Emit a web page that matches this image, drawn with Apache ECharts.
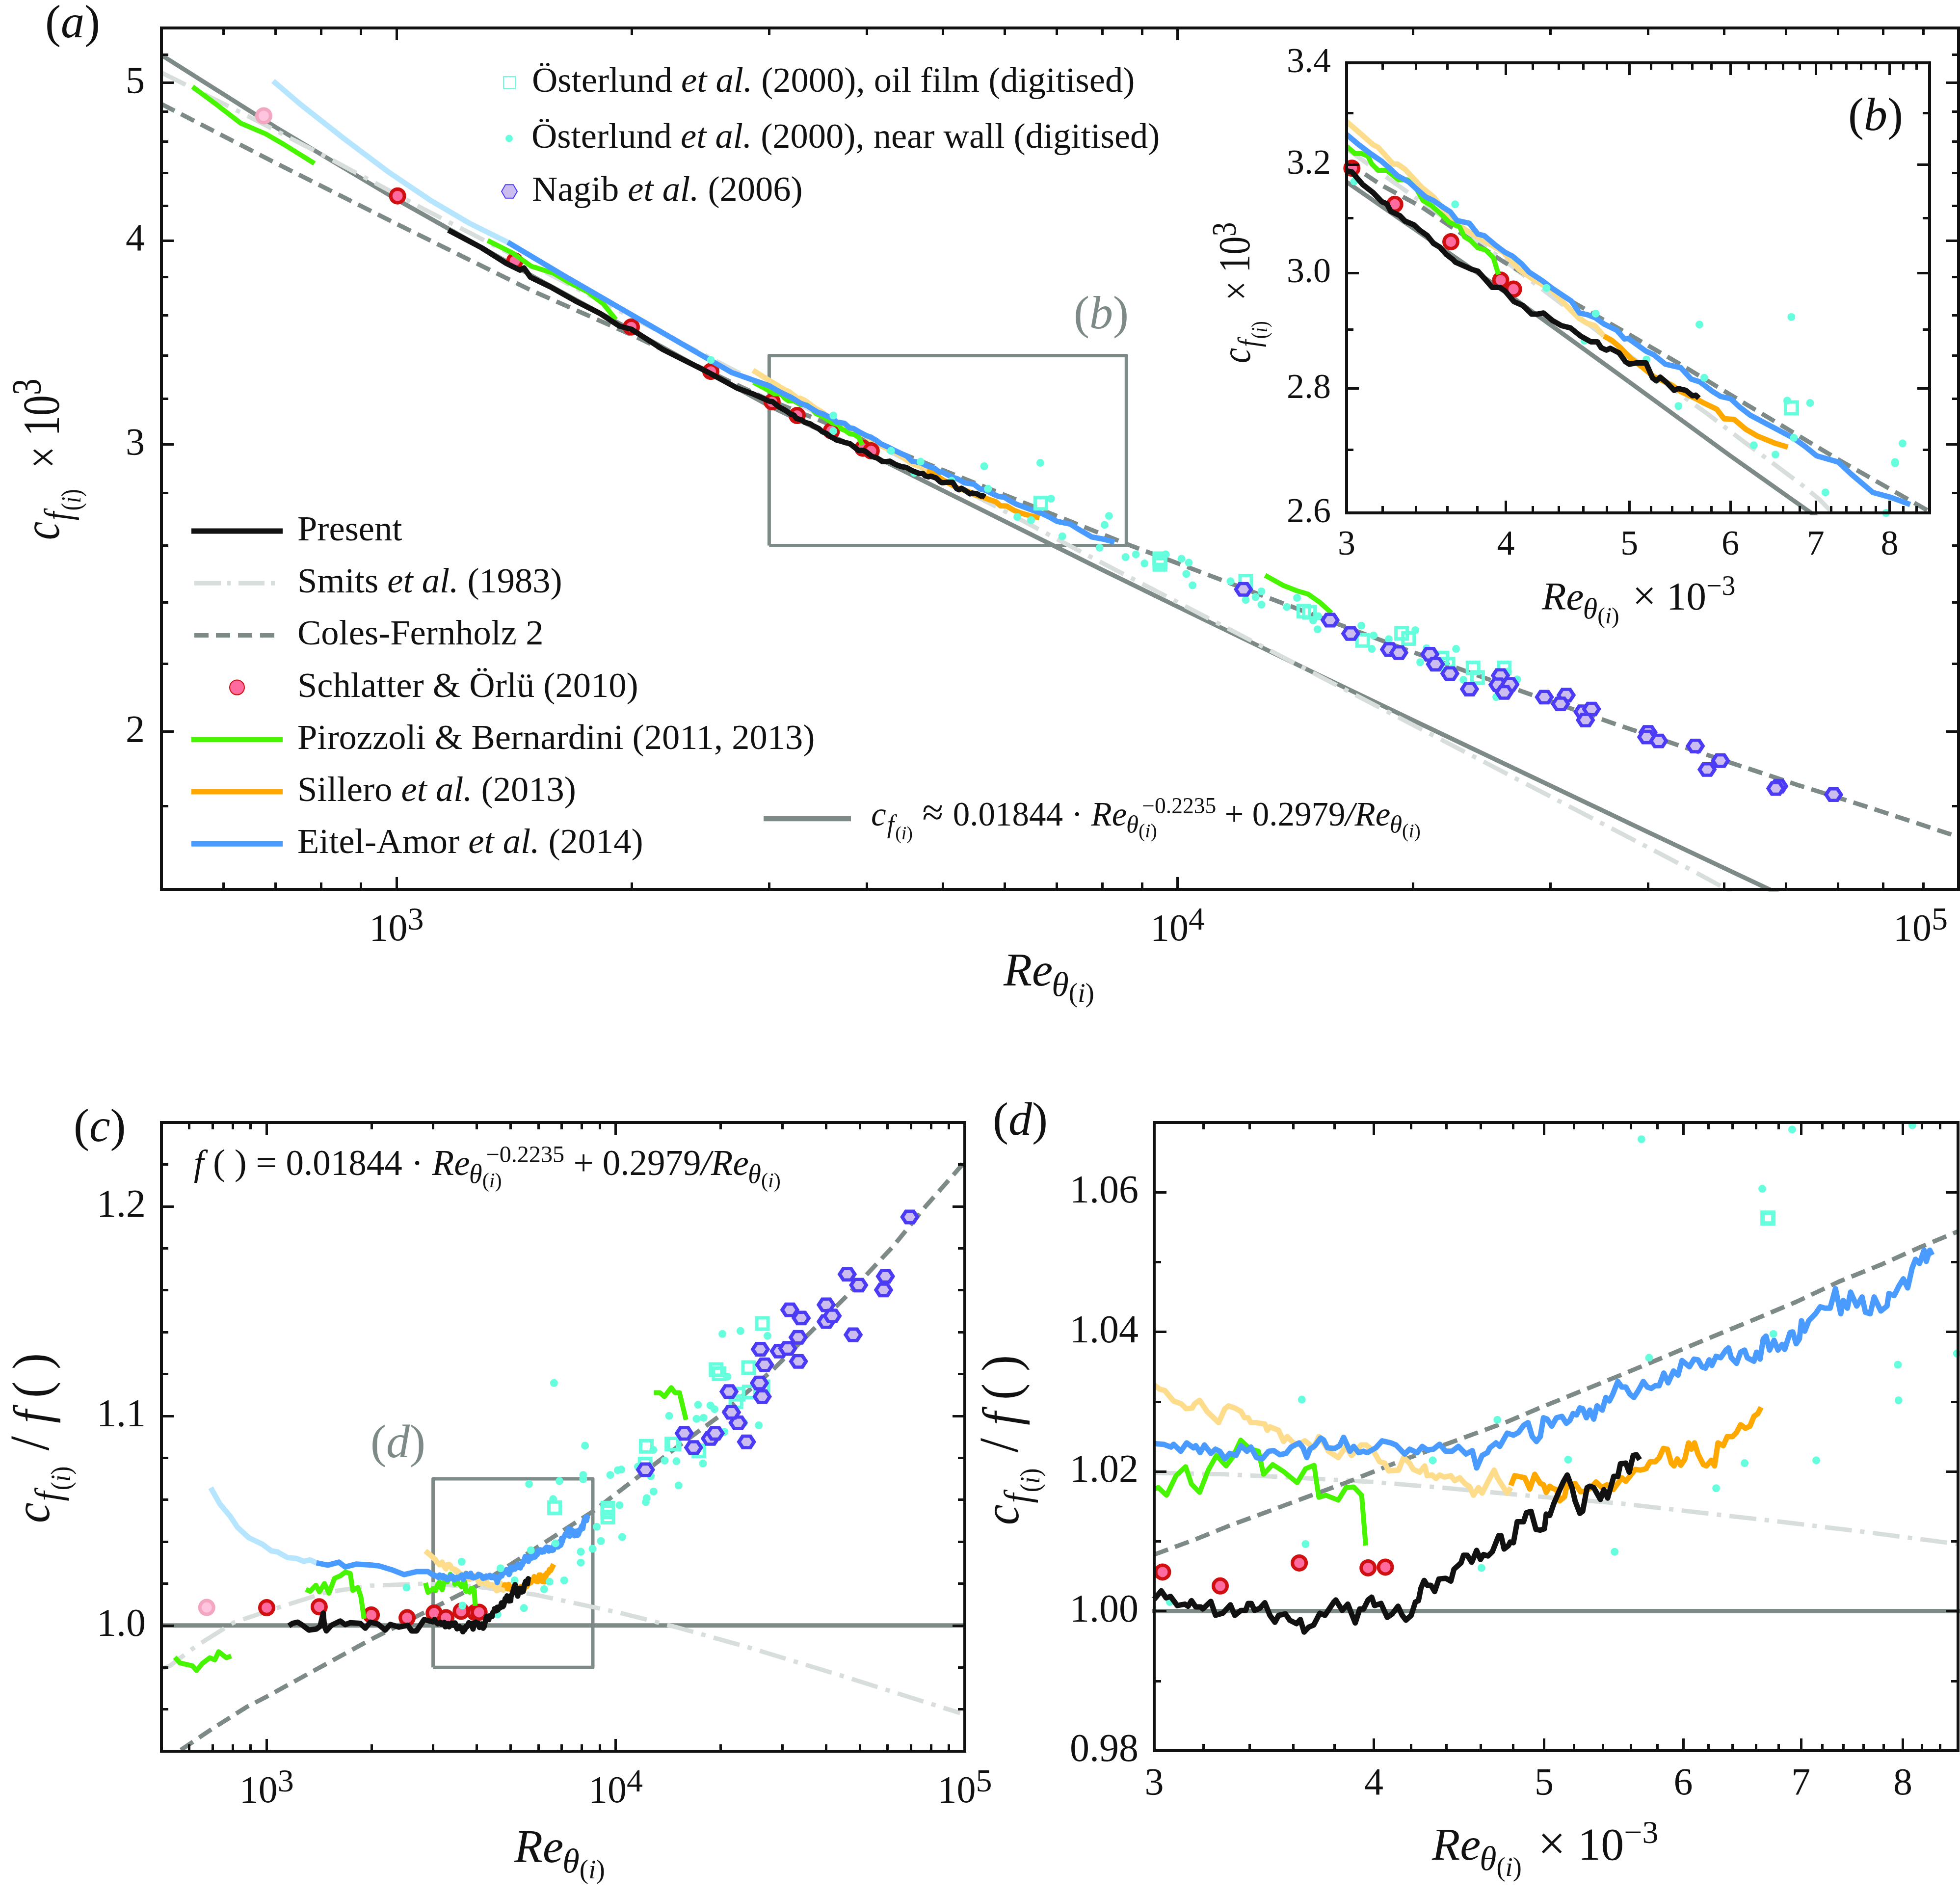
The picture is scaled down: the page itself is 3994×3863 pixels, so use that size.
<!DOCTYPE html>
<html><head><meta charset="utf-8">
<script src="https://cdn.jsdelivr.net/npm/echarts@6/dist/echarts.min.js"></script>
<style>html,body{margin:0;padding:0;background:#fff}#c{width:3994px;height:3863px}</style>
</head><body><div id="c"></div>
<script>
// ---------- tick values ----------
const xMajorWide=[1000,10000,100000];
const xMinorWide=[600,700,800,900,2000,3000,4000,5000,6000,7000,8000,9000,20000,30000,40000,50000,60000,70000,80000,90000];
const xMajorZoom=[3000,4000,5000,6000,7000,8000];
const xMinorZoom=[3200,3400,3600,3800,4200,4400,4600,4800,5200,5400,5600,5800,6200,6400,6600,6800,7200,7400,7600,7800,8200,8400];
const yMajorA=[2,3,4,5], yMinorA=[1.8,2.2,2.4,2.6,2.8,3.2,3.4,3.6,3.8,4.2,4.4,4.6,4.8,5.2];
const yMajorB=[2.6,2.8,3.0,3.2,3.4], yMinorB=[2.7,2.9,3.1,3.3];
const yMajorC=[1.0,1.1,1.2], yMinorC=[0.96,0.98,1.02,1.04,1.06,1.08,1.12,1.14,1.16,1.18,1.22];
const yMajorD=[0.98,1.0,1.02,1.04,1.06], yMinorD=[0.99,1.01,1.03,1.05];

// ---------- names ----------
const N_PRESENT='Present',N_SMITS='Smits et al. (1983)',N_COLES='Coles-Fernholz 2',N_SCH='Schlatter & Örlü (2010)',N_PIR='Pirozzoli & Bernardini (2011, 2013)',N_SIL='Sillero et al. (2013)',N_EIT='Eitel-Amor et al. (2014)',N_FIT='Fit',N_OIL='Österlund et al. (2000), oil film (digitised)',N_WALL='Österlund et al. (2000), near wall (digitised)',N_NAG='Nagib et al. (2006)';

// ---------- reference curves ----------
const fitA=[[500,5.197],[700,4.694],[1000,4.239],[1500,3.799],[2000,3.524],[3000,3.167],[4000,2.965],[5000,2.811],[8000,2.513],[10000,2.385],[15000,2.171],[20000,2.032],[40000,1.735],[60000,1.583],[100000,1.41]];
const fitB=[[3000,3.167],[4000,2.965],[5000,2.811],[6000,2.69],[7000,2.595],[8600,2.47]];
const unity=[[500,1],[100000,1]];
const colesA=[[500,4.85],[700,4.463],[1000,4.095],[1484,3.73],[2000,3.501],[3000,3.193],[4000,3.021],[5000,2.893],[8600,2.606],[10440,2.516],[14630,2.366],[19700,2.243],[28160,2.109],[36440,2.02],[46240,1.944],[62250,1.854],[77430,1.794],[100000,1.723]];
const colesB=[[3000,3.205],[3200,3.16],[3436,3.12],[3982,3.02],[4540,2.945],[4977,2.894],[5461,2.843],[6185,2.773],[7293,2.684],[8600,2.602]];
const colesC=[[568,0.9406],[699,0.9507],[875,0.961],[1000,0.966],[1484,0.9817],[2000,0.9935],[3000,1.0083],[4000,1.0188],[5000,1.0291],[8600,1.0544],[10440,1.0651],[14630,1.0838],[19700,1.0996],[28160,1.1219],[36440,1.1405],[46240,1.1578],[62250,1.1808],[77430,1.2002],[97250,1.2189],[100000,1.222]];
const colesD=[[3000,1.0081],[3168,1.0103],[3315,1.0123],[3468,1.0141],[3633,1.016],[3857,1.0184],[4132,1.0214],[4440,1.0243],[4772,1.0272],[4970,1.0291],[5247,1.0315],[5526,1.0338],[5863,1.0365],[6191,1.039],[6560,1.0416],[6957,1.0443],[7358,1.0472],[7786,1.0497],[8177,1.0521],[8600,1.0544]];
const smitsA=[[500,5.07],[629,4.798],[805,4.513],[1084,4.181],[1484,3.868],[1995,3.591],[2827,3.294],[4000,3.02],[4867,2.876],[5880,2.744],[7760,2.557],[10240,2.386],[14830,2.175],[24400,1.921],[45200,1.647],[49900,1.605],[97000,1.351]];
const smitsB=[[3000,3.23],[4000,3.02],[4400,2.949],[5000,2.856],[5500,2.788],[5750,2.759],[6138,2.714],[6817,2.645],[7048,2.621],[7300,2.59]];
const smitsC=[[500,0.9793],[529,0.9808],[629,0.9902],[805,1.0014],[1084,1.0086],[1484,1.0158],[1995,1.019],[2827,1.0199],[4000,1.0185],[5880,1.0147],[7760,1.0104],[10240,1.0061],[14830,0.9993],[24400,0.9892],[45200,0.9756],[97000,0.9582]];
const smitsD=[[3000,1.0198],[3291,1.0196],[3624,1.0191],[3997,1.0185],[4410,1.0176],[4867,1.0166],[5536,1.0154],[6138,1.0141],[6817,1.0128],[7578,1.0114],[8600,1.0096]];
const boxB=[[3000,2.6],[8600,2.6],[8600,3.4],[3000,3.4],[3000,2.6]];
const boxD=[[3000,0.98],[8600,0.98],[8600,1.07],[3000,1.07],[3000,0.98]];

// ---------- present ----------
const blackLowA=[[1165,4.059],[1284,3.96],[1382,3.873],[1439,3.836],[1456,3.848],[1484,3.798],[1573,3.747],[1694,3.673],[1823,3.608],[1928,3.545],[1998,3.529],[2192,3.43],[2493,3.325],[2735,3.246],[2864,3.22]];
const blackB=[[3000,3.188],[3029,3.186],[3089,3.162],[3147,3.147],[3197,3.13],[3226,3.126],[3249,3.112],[3303,3.104],[3334,3.094],[3388,3.087],[3420,3.078],[3472,3.067],[3510,3.053],[3551,3.046],[3592,3.033],[3635,3.024],[3652,3.019],[3712,3.012],[3763,3.006],[3803,3.003],[3848,2.99],[3903,2.974],[3957,2.974],[3993,2.968],[4059,2.949],[4125,2.942],[4191,2.927],[4231,2.927],[4281,2.929],[4351,2.916],[4423,2.907],[4496,2.903],[4579,2.889],[4665,2.879],[4720,2.879],[4752,2.869],[4797,2.865],[4830,2.868],[4909,2.86],[4966,2.845],[5000,2.841],[5059,2.843],[5153,2.843],[5213,2.818],[5250,2.813],[5287,2.819],[5349,2.81],[5422,2.797],[5461,2.8],[5538,2.797],[5603,2.788],[5637,2.789],[5669,2.784]];
const blackLowC=[[1158,0.9998],[1187,1.001],[1227,1.0016],[1268,1.0001],[1322,0.9978],[1389,0.9983],[1424,0.9996],[1453,1.0059],[1465,0.9996],[1484,0.9974],[1534,1.0001],[1626,1.0021],[1680,1.0004],[1737,1.0013],[1855,1.001],[1918,0.9987],[1982,1.0016],[2083,1.0007],[2188,0.9978],[2262,1.0005],[2396,0.9992],[2539,1.0001],[2603,0.9974],[2690,0.9974],[2827,1.0028]];
const blackD=[[3000,1.0017],[3028,1.0029],[3047,1.0019],[3065,1.0021],[3092,1.0008],[3123,1.001],[3136,1.0007],[3150,1.0015],[3168,1.0006],[3189,1.0006],[3197,1.0003],[3231,1.0014],[3251,0.9994],[3282,0.9997],[3315,1.0009],[3334,0.9994],[3361,1.0001],[3382,1.0001],[3393,1.0011],[3407,1.0011],[3422,1.0001],[3445,1.0004],[3468,1.0012],[3491,0.9994],[3514,0.9984],[3531,0.9994],[3563,0.9996],[3583,0.9987],[3615,0.9982],[3633,0.9988],[3651,0.997],[3673,0.9977],[3697,0.998],[3727,0.9997],[3752,0.9994],[3796,1.0013],[3806,1.0016],[3838,1.0001],[3866,1.001],[3904,0.9983],[3927,1.0003],[3947,1.0003],[3970,1.0016],[3989,1.002],[4004,1.0008],[4038,1.0011],[4071,0.9991],[4098,0.9996],[4129,1.0007],[4152,0.9994],[4172,0.9987],[4201,0.9994],[4224,1.0013],[4241,1.0015],[4255,1.0033],[4273,1.0044],[4290,1.0037],[4311,1.0037],[4332,1.0028],[4356,1.0046],[4395,1.0047],[4425,1.0043],[4443,1.006],[4484,1.0069],[4499,1.008],[4521,1.008],[4548,1.007],[4577,1.0087],[4600,1.0074],[4618,1.0081],[4646,1.0079],[4672,1.0085],[4711,1.0108],[4726,1.0108],[4745,1.0089],[4772,1.0094],[4783,1.0099],[4803,1.0098],[4827,1.0128],[4867,1.0128],[4886,1.0141],[4915,1.0143],[4947,1.0117],[4975,1.0116],[5002,1.0118],[5014,1.0139],[5037,1.0137],[5064,1.0154],[5100,1.0172],[5127,1.0185],[5154,1.0195],[5186,1.0177],[5207,1.0158],[5240,1.014],[5259,1.0143],[5290,1.0177],[5309,1.0179],[5336,1.0177],[5355,1.017],[5383,1.016],[5407,1.0174],[5434,1.0162],[5478,1.0193],[5507,1.0193],[5526,1.0211],[5565,1.0212],[5590,1.0199],[5619,1.0223],[5643,1.0224],[5667,1.0217]];

// ---------- Eitel-Amor ----------
const blueLightA=[[695,5.01],[752,4.851],[856,4.62],[974,4.41],[1108,4.23],[1238,4.1],[1388,3.99]];
const blueLowA=[[1388,3.99],[1632,3.81],[1963,3.62],[2360,3.44],[2685,3.32]];
const blueB=[[3000,3.258],[3060,3.24],[3132,3.221],[3197,3.206],[3249,3.191],[3288,3.179],[3357,3.167],[3403,3.154],[3460,3.139],[3510,3.132],[3569,3.12],[3618,3.111],[3662,3.095],[3745,3.09],[3803,3.07],[3848,3.067],[3930,3.049],[3993,3.037],[4049,3.03],[4116,3.016],[4173,3.001],[4272,2.986],[4352,2.972],[4439,2.959],[4502,2.95],[4569,2.929],[4634,2.926],[4699,2.921],[4775,2.91],[4888,2.899],[4956,2.884],[4990,2.885],[5071,2.874],[5153,2.863],[5225,2.857],[5336,2.841],[5385,2.839],[5487,2.835],[5590,2.816],[5682,2.811],[5813,2.795],[5895,2.787],[6005,2.783],[6105,2.769],[6220,2.756],[6510,2.734],[6720,2.719],[6870,2.705],[7013,2.69],[7293,2.68],[7463,2.661],[7760,2.632],[8025,2.624],[8304,2.613]];
const blueLightC=[[692,1.0657],[735,1.058],[786,1.0522],[826,1.0468],[889,1.0419],[974,1.0387],[1032,1.0356],[1075,1.0351],[1149,1.0324],[1217,1.032],[1279,1.0306],[1333,1.0313],[1389,1.0299]];
const blueLowC=[[1389,1.0299],[1497,1.0288],[1612,1.0302],[1680,1.0279],[1810,1.0293],[2000,1.0288],[2100,1.0284],[2281,1.0266],[2477,1.0243],[2690,1.0257],[2899,1.0257]];
const blueD=[[3000,1.024],[3037,1.0239],[3067,1.0235],[3077,1.0239],[3106,1.0229],[3130,1.0241],[3158,1.0234],[3168,1.0237],[3186,1.0227],[3204,1.0238],[3231,1.0226],[3251,1.0232],[3269,1.0229],[3291,1.0218],[3312,1.0226],[3339,1.0223],[3361,1.0237],[3388,1.0229],[3405,1.0235],[3430,1.022],[3456,1.0218],[3485,1.0229],[3508,1.023],[3537,1.0224],[3566,1.0226],[3589,1.0235],[3627,1.0241],[3646,1.0234],[3664,1.022],[3679,1.0232],[3703,1.0237],[3731,1.0248],[3746,1.0245],[3764,1.0234],[3800,1.0233],[3825,1.0237],[3845,1.0249],[3877,1.0229],[3896,1.0236],[3921,1.0227],[3947,1.0229],[3966,1.0227],[4011,1.0234],[4044,1.0244],[4091,1.0241],[4118,1.0238],[4165,1.0225],[4192,1.0232],[4234,1.0227],[4262,1.0236],[4290,1.0231],[4325,1.0232],[4360,1.0239],[4395,1.0229],[4432,1.0229],[4469,1.0236],[4514,1.0225],[4551,1.023],[4577,1.0205],[4610,1.0223],[4642,1.0227],[4657,1.0234],[4695,1.0241],[4718,1.0236],[4764,1.0255],[4803,1.0252],[4835,1.0256],[4867,1.0266],[4896,1.027],[4923,1.025],[4950,1.0243],[4975,1.025],[4996,1.0277],[5020,1.0275],[5050,1.0265],[5082,1.0277],[5118,1.0279],[5148,1.0269],[5171,1.0273],[5193,1.0283],[5217,1.0281],[5240,1.0291],[5259,1.029],[5285,1.0277],[5309,1.0288],[5336,1.0275],[5359,1.0294],[5396,1.0288],[5421,1.0306],[5446,1.0301],[5469,1.031],[5507,1.0329],[5536,1.0321],[5565,1.0321],[5594,1.0311],[5624,1.0306],[5654,1.0315],[5694,1.0329],[5724,1.0321],[5754,1.0319],[5784,1.0323],[5814,1.0323],[5849,1.0341],[5882,1.0327],[5924,1.0344],[5959,1.0338],[5990,1.0359],[6049,1.035],[6085,1.0361],[6117,1.036],[6149,1.035],[6177,1.0348],[6207,1.036],[6229,1.0352],[6264,1.0365],[6301,1.0363],[6345,1.0374],[6367,1.0377],[6389,1.0363],[6434,1.0355],[6468,1.0371],[6502,1.0374],[6525,1.0363],[6582,1.0358],[6605,1.0371],[6635,1.0361],[6663,1.039],[6687,1.0394],[6718,1.0374],[6758,1.0388],[6793,1.0374],[6829,1.0382],[6853,1.0375],[6901,1.0399],[6925,1.04],[6957,1.0383],[6986,1.039],[7005,1.0416],[7035,1.0401],[7072,1.0416],[7135,1.0426],[7180,1.0436],[7223,1.0434],[7273,1.0434],[7324,1.0462],[7375,1.0426],[7400,1.0445],[7439,1.0434],[7471,1.0457],[7531,1.0437],[7584,1.045],[7618,1.0428],[7665,1.0426],[7705,1.045],[7773,1.043],[7836,1.0437],[7855,1.0455],[7910,1.0452],[7956,1.0465],[8005,1.0476],[8051,1.0463],[8097,1.0491],[8134,1.0504],[8177,1.0498],[8226,1.0517],[8249,1.0501],[8287,1.0517],[8313,1.051]];

// ---------- Sillero ----------
const paleLeadA=[[2860,3.33]];
const paleB=[[3000,3.283],[3075,3.26],[3147,3.238],[3176,3.233],[3263,3.201],[3288,3.201],[3334,3.191],[3436,3.157],[3510,3.139],[3598,3.107],[3700,3.081],[3821,3.062],[3982,3.037],[4097,3.006],[4192,2.99],[4340,2.97],[4480,2.938],[4563,2.92],[4634,2.911],[4699,2.907],[4775,2.889]];
const orangeB=[[4775,2.889],[4841,2.882],[4921,2.869],[5012,2.851],[5118,2.836],[5225,2.82],[5275,2.816],[5397,2.806],[5487,2.795],[5641,2.783],[5720,2.776],[5853,2.766],[5934,2.75],[6042,2.749],[6170,2.733],[6300,2.722],[6510,2.71],[6657,2.704]];
const paleLeadC=[[2850,1.0356],[2950,1.0335]];
const paleD=[[3000,1.0324],[3021,1.0318],[3042,1.0316],[3077,1.0301],[3108,1.0297],[3128,1.029],[3153,1.0291],[3163,1.0297],[3184,1.0302],[3215,1.0286],[3264,1.027],[3291,1.029],[3307,1.0294],[3334,1.0291],[3361,1.0286],[3377,1.0277],[3393,1.0277],[3405,1.027],[3428,1.027],[3468,1.0268],[3479,1.0259],[3491,1.0264],[3531,1.0259],[3554,1.0243],[3571,1.025],[3600,1.0241],[3624,1.0239],[3655,1.0244],[3697,1.0234],[3722,1.025],[3746,1.0241],[3770,1.0229],[3818,1.022],[3857,1.0236],[3885,1.0223],[3915,1.0232],[3934,1.0238],[3960,1.0238],[3997,1.023],[4031,1.0214],[4058,1.0212],[4078,1.0201],[4132,1.0202],[4159,1.022],[4192,1.0212],[4213,1.0203],[4248,1.0199],[4276,1.0208],[4290,1.0194],[4318,1.0195],[4339,1.019],[4360,1.0195],[4388,1.0192],[4425,1.0194],[4447,1.0187],[4477,1.0191],[4506,1.0183],[4536,1.0178],[4558,1.0166],[4588,1.0177],[4610,1.0169],[4649,1.0187],[4683,1.0202],[4703,1.0191],[4764,1.0169],[4787,1.0177]];
const orangeD=[[4787,1.018],[4811,1.0194],[4835,1.0193],[4875,1.0191],[4907,1.0175],[4939,1.0196],[4975,1.0183],[4996,1.0181],[5014,1.017],[5037,1.0179],[5055,1.0176],[5082,1.0174],[5103,1.0158],[5136,1.0164],[5154,1.0183],[5189,1.0181],[5207,1.0183],[5244,1.0171],[5281,1.0172],[5318,1.0177],[5352,1.0185],[5393,1.0177],[5430,1.0181],[5473,1.0174],[5507,1.0183],[5536,1.0191],[5565,1.0186],[5594,1.0193],[5634,1.0203],[5674,1.0202],[5714,1.0204],[5744,1.0214],[5784,1.0214],[5814,1.022],[5845,1.0233],[5876,1.0232],[5907,1.0212],[5928,1.0208],[5953,1.0218],[5980,1.0209],[6011,1.0217],[6042,1.0241],[6064,1.0232],[6089,1.0241],[6117,1.0225],[6160,1.021],[6185,1.0208],[6224,1.0216],[6251,1.0208],[6279,1.0241],[6323,1.0237],[6356,1.025],[6400,1.025],[6434,1.0256],[6468,1.0267],[6509,1.0262],[6548,1.0265],[6582,1.0279],[6616,1.0283],[6644,1.0292]];

// ---------- Pirozzoli ----------
const greenLowA=[[548,4.97],[587,4.85],[632,4.72],[680,4.65],[718,4.58],[785,4.46]];
const greenMidA=[[1308,4.0],[1408,3.93],[1488,3.857],[1588,3.82],[1663,3.77],[1757,3.72],[1840,3.657],[1909,3.578]];
const greenLeadA=[[2864,3.274]];
const greenB=[[3000,3.235],[3046,3.221],[3082,3.221],[3118,3.216],[3140,3.201],[3176,3.189],[3226,3.189],[3295,3.171],[3349,3.171],[3403,3.154],[3444,3.132],[3500,3.122],[3569,3.104],[3610,3.092],[3680,3.083],[3712,3.065],[3755,3.058],[3803,3.045],[3857,3.041],[3911,3.027],[3947,2.997]];
const greenHighA=[[12945,2.493],[13650,2.458],[14220,2.439],[14690,2.428],[15240,2.398],[15740,2.364]];
const greenLowC=[[546,0.9848],[565,0.9821],[613,0.9808],[630,0.9785],[655,0.9819],[688,0.9846],[711,0.9836],[729,0.9875],[767,0.9846],[792,0.9854]];
const greenMidC=[[1296,1.0172],[1333,1.0163],[1385,1.0192],[1417,1.016],[1465,1.02],[1509,1.0154],[1565,1.0225],[1626,1.0237],[1683,1.0255],[1737,1.0248],[1766,1.0167],[1825,1.0181],[1864,1.0136],[1902,1.0032]];
const greenLeadC=[[2850,1.0203],[2900,1.0158]];
const greenD=[[3000,1.0175],[3016,1.0177],[3049,1.0166],[3087,1.0194],[3126,1.0207],[3150,1.0182],[3184,1.017],[3220,1.0202],[3255,1.0223],[3296,1.0208],[3324,1.022],[3360,1.0245],[3399,1.0233],[3439,1.0229],[3462,1.0196],[3504,1.021],[3554,1.02],[3618,1.0184],[3658,1.0204],[3699,1.0209],[3722,1.0163],[3756,1.0166],[3818,1.0159],[3857,1.0177],[3896,1.0178],[3937,1.0166],[3958,1.0094]];
const greenHighC=[[12866,1.1111],[13385,1.1111],[13790,1.1092],[14435,1.1135],[14785,1.1111],[15230,1.1111],[15906,1.0981]];

// ---------- Schlatter ----------
const redPaleA=[[676,4.77]];
const redA=[[1003,4.26],[1417,3.886],[1998,3.54],[2526,3.325],[3026,3.185],[3258,3.124],[3604,3.057],[3955,2.983],[4053,2.972]];
const redB=[[3029,3.193],[3273,3.125],[3622,3.056],[3963,2.987],[4056,2.971]];
const redPaleC=[[674,1.0086]];
const redC=[[1001,1.0085],[1415,1.0089],[1995,1.005],[2527,1.0037],[3020,1.0059],[3265,1.0037],[3610,1.0068],[3960,1.0062],[4062,1.0063]];
const redD=[[3033,1.0056],[3271,1.0036],[3628,1.0069],[3970,1.0062],[4061,1.0063]];

// ---------- Österlund near wall ----------
const dotsA=[[2526,3.379],[3625,3.124],[3625,3.056],[4297,2.972],[4687,2.927],[4602,2.881],[5136,2.849],[5655,2.908],[5718,2.817],[6673,2.922],[6887,2.778],[6234,2.707],[6492,2.695],[7120,2.634],[8170,2.711],[8065,2.677],[7947,2.592],[8580,2.558],[8844,2.568],[9072,2.535],[9658,2.568],[10116,2.552],[10337,2.538],[10262,2.498],[10452,2.458],[11690,2.472],[12806,2.437],[12587,2.418],[12806,2.392],[12226,2.408],[14223,2.415],[13797,2.384],[14917,2.339],[15110,2.31],[15140,2.353],[17195,2.322],[17825,2.29],[17727,2.247],[18640,2.278],[20160,2.307],[20840,2.249],[20450,2.205],[22730,2.247],[23230,2.151],[27230,2.152],[25590,2.099],[26490,2.176],[22470,2.186]];
const dotsB=[[3650,3.125],[4305,2.973],[4705,2.928],[4610,2.881],[5157,2.849],[5674,2.909],[5724,2.818],[5464,2.771],[6700,2.922],[6650,2.78],[6930,2.776],[6730,2.719],[6260,2.707],[6510,2.692],[7125,2.632],[8080,2.678],[8190,2.71],[7950,2.6],[8080,2.68],[3042,3.168]];
const dotsC=[[6658,1.1157],[5648,1.0675],[6904,1.0689],[8072,1.0718],[8072,1.0698],[6620,1.0603],[8170,1.0858],[9650,1.0718],[10140,1.0741],[10380,1.0744],[12815,1.0838],[11580,1.0758],[12610,1.0712],[13820,1.0787],[14930,1.0784],[17780,1.0773],[14230,1.1],[17220,1.1053],[18680,1.105],[19200,1.1032],[17050,1.0986],[17850,1.0991],[20500,1.0924],[23320,1.0967],[25700,1.0955],[20220,1.1391],[22770,1.1405],[27230,1.1382],[20910,1.1187],[15140,1.0668],[12840,1.0639],[12270,1.0608],[12200,1.0589],[10260,1.0574],[10440,1.0422],[8826,1.0471],[9074,1.0403],[8584,1.0366],[7945,1.0352],[7945,1.03],[5716,1.0359],[6726,1.0392],[4680,1.0273],[5136,1.0215],[6464,1.0209],[7123,1.0215],[6237,1.0173],[5460,1.0083],[4586,1.0053],[3622,1.0304],[2518,1.0181],[3640,1.0095]];
const dotsD=[[3640,1.0303],[3658,1.0096],[4703,1.0274],[4321,1.0216],[4606,1.0062],[3062,1.0013],[6654,1.0605],[5737,1.0363],[6752,1.0397],[7948,1.0353],[7955,1.0302],[7142,1.0216],[5160,1.0217],[6502,1.0212],[6264,1.0176],[5484,1.0085],[8588,1.0369],[5680,1.0676],[6920,1.069],[8100,1.0696]];

// ---------- Österlund oil film ----------
const oilA=[[6682,2.76],[9493,2.552],[9493,2.543],[9493,2.532],[12226,2.472],[14510,2.37],[14750,2.366],[17260,2.274],[19360,2.297],[19760,2.28],[21800,2.218],[22200,2.199],[23900,2.187],[24220,2.158],[26200,2.187]];
const oilB=[[6700,2.768]];
const oilC=[[6684,1.0562],[9497,1.056],[9497,1.0543],[9497,1.0517],[12146,1.077],[12240,1.0855],[14490,1.0866],[14700,1.0866],[17290,1.0833],[19400,1.1221],[19780,1.1201],[22100,1.1068],[22410,1.1104],[24030,1.123],[24130,1.1114],[26320,1.1441],[26420,1.1139]];
const oilD=[[6704,1.0563]];

// ---------- Nagib ----------
const nagibA=[[12145,2.444],[15680,2.34],[16660,2.296],[18680,2.245],[19200,2.235],[21040,2.23],[21390,2.199],[22320,2.17],[23650,2.123],[25910,2.164],[25720,2.136],[26640,2.137],[26200,2.113],[29490,2.099],[31450,2.105],[30930,2.079],[33050,2.056],[33890,2.064],[33290,2.032],[40030,1.997],[39880,1.984],[41300,1.973],[46030,1.959],[49560,1.919],[47650,1.895],[58860,1.851],[58340,1.845],[69180,1.829]];
const nagibC=[[12170,1.0743],[15720,1.0917],[16720,1.0849],[18680,1.0892],[19280,1.0917],[22420,1.0967],[21460,1.1017],[23700,1.0876],[21120,1.1116],[26280,1.1092],[25810,1.1157],[26700,1.1244],[25960,1.1318],[29420,1.1309],[31100,1.1322],[33320,1.1375],[33390,1.126],[31530,1.1506],[34000,1.1467],[40090,1.153],[40090,1.145],[41710,1.1477],[47900,1.1387],[46040,1.1676],[49660,1.1624],[59240,1.1666],[58530,1.1601],[69570,1.1949]];

// ---------- styles ----------
const FONT='"Liberation Serif"';
const BLACK='#111111',GRAY='#7D8A88',LGRAY='#D8DEDC',GREEN='#48F500',ORANGE='#FFA800',BLUE='#4A9BFF',LBLUE='#B5E5FF',PALE='#FDDC8C',TEAL='#66FFDD';
const HEX='path://M-1,0 L-0.5,-0.866 L0.5,-0.866 L1,0 L0.5,0.866 L-0.5,0.866 Z';
const BAR='path://M0,0H186V11H0Z';
const KEY_DASH='path://M0,0L0,0 M6,1H35V10H6Z M50,1H79V10H50Z M95,1H124V10H95Z M140,1H169V10H140Z M186,11L186,11';
const KEY_DASHDOT='path://M0,0L0,0 M6,1H60V10H6Z M73,1H80V10H73Z M96,1H149V10H96Z M162,1H170V10H162Z M186,11L186,11';
const DASH=[30,15],DASHDOT=[55,17,9,17];

const grid=[],xAxis=[],yAxis=[],series=[];
const pow10=v=>`{b|10}{s|${Math.round(Math.log10(v))}}`;
const pow10Edge=v=>pow10(v)+(v>=100000?'{g| }':'');
function rich(sz){return {b:{fontSize:sz,fontFamily:FONT,color:BLACK},s:{fontSize:66,fontFamily:FONT,color:BLACK,verticalAlign:'bottom',padding:[0,0,38,0]},g:{width:22}};}
function axisPair(list,pos1,pos2,gi,cfg,major,minor,labelCfg){
  const base={type:cfg.type,min:cfg.min,max:cfg.max,gridIndex:gi,silent:true,splitLine:{show:false},minorTick:{show:false},z:30};
  if(cfg.type==='log')base.logBase=10;
  const line={show:true,onZero:false,lineStyle:{color:BLACK,width:6,cap:'square'}};
  list.push({...base,position:pos1,axisLine:line,axisTick:{show:true,inside:true,length:25,customValues:major,lineStyle:{color:BLACK,width:5}},axisLabel:labelCfg});
  list.push({...base,position:pos2,axisLine:line,axisTick:{show:true,inside:true,length:25,customValues:major,lineStyle:{color:BLACK,width:5}},axisLabel:{show:false}});
  const mb={...base,gridIndex:gi+1};
  list.push({...mb,position:pos1,axisLine:{show:false},axisTick:{show:true,inside:true,length:14,customValues:minor,lineStyle:{color:BLACK,width:5}},axisLabel:{show:false}});
  list.push({...mb,position:pos2,axisLine:{show:false},axisTick:{show:true,inside:true,length:14,customValues:minor,lineStyle:{color:BLACK,width:5}},axisLabel:{show:false}});
}
function panel(r,xc,yc){
  const gi=grid.length;
  const rect={left:r[0],top:r[1],width:r[2]-r[0],height:r[3]-r[1],containLabel:false,show:false};
  grid.push(rect,{...rect});
  axisPair(xAxis,'bottom','top',gi,xc,xc.major,xc.minor,{show:true,margin:xc.margin,customValues:xc.major,formatter:xc.fmt,fontFamily:FONT,fontSize:xc.size,color:BLACK,rich:rich(xc.size),hideOverlap:false,showMinLabel:true,showMaxLabel:true,alignMaxLabel:xc.alignMax});
  axisPair(yAxis,'left','right',gi,yc,yc.major,yc.minor,{show:true,margin:yc.margin,customValues:yc.major,formatter:yc.fmt,fontFamily:FONT,fontSize:yc.size,color:BLACK,hideOverlap:false,showMinLabel:true,showMaxLabel:true});
  return {x:xAxis.length-4,y:yAxis.length-4};
}
function line(p,name,data,color,width,z,type){
  series.push({type:'line',name,data,xAxisIndex:p.x,yAxisIndex:p.y,symbol:'none',showSymbol:false,z,silent:true,animation:false,clip:true,smooth:false,
    itemStyle:{color},lineStyle:{color,width,type:type||'solid',cap:'butt',join:'round'}});
}
function scat(p,name,data,symbol,size,color,bc,bw,z){
  series.push({type:'scatter',name,data,xAxisIndex:p.x,yAxisIndex:p.y,symbol,symbolSize:size,symbolKeepAspect:true,z,silent:true,animation:false,clip:true,
    itemStyle:{color,borderColor:bc,borderWidth:bw,opacity:1}});
}
const panelA=panel([329,57,3992,1812],{type:'log',min:500,max:100000,major:xMajorWide,minor:xMinorWide,margin:32,size:78,fmt:pow10Edge,alignMax:'right'},
  {type:'log',min:1.6,max:5.4,major:yMajorA,minor:yMinorA,margin:34,size:78,fmt:v=>String(v)});
const panelB=panel([2744,128,3932,1045],{type:'log',min:3000,max:8600,major:xMajorZoom,minor:xMinorZoom,margin:30,size:72,fmt:v=>String(v/1000)},
  {type:'log',min:2.6,max:3.4,major:yMajorB,minor:yMinorB,margin:32,size:72,fmt:v=>v.toFixed(1)});
const panelC=panel([329,2287,1966,3568],{type:'log',min:500,max:100000,major:xMajorWide,minor:xMinorWide,margin:32,size:78,fmt:pow10},
  {type:'value',min:0.94,max:1.24,major:yMajorC,minor:yMinorC,margin:32,size:80,fmt:v=>v.toFixed(1)});
const panelD=panel([2352,2287,3990,3567],{type:'log',min:3000,max:8600,major:xMajorZoom,minor:xMinorZoom,margin:30,size:78,fmt:v=>String(v/1000)},
  {type:'value',min:0.98,max:1.07,major:yMajorD,minor:yMinorD,margin:32,size:80,fmt:v=>v.toFixed(2)});

function common(p,d){
  line(p,N_FIT,d.fit,GRAY,9,2);
  line(p,N_SMITS,d.smits,LGRAY,9,2,DASHDOT);
  line(p,N_COLES,d.coles,GRAY,9,3,DASH);
  if(d.box)line(p,'box',d.box,GRAY,7,1);
  d.pale.forEach(s=>line(p,'pale',s,PALE,11,4));
  if(d.redPale)scat(p,'red pale',d.redPale,'circle',28,'#FFC4DF','#F2A6C0',7,5);
  scat(p,N_SCH,d.red,'circle',28,'#FF6B9E','#D01010',7,5);
  d.lightBlue.forEach(s=>line(p,'light blue',s,LBLUE,11,4));
  d.green.forEach(s=>line(p,N_PIR,s,GREEN,10,6));
  line(p,N_SIL,d.orange,ORANGE,11,6);
  d.blue.forEach(s=>line(p,N_EIT,s,BLUE,11,7));
  scat(p,N_OIL,d.oil,'rect',d.oilSize||23,'rgba(255,255,255,0)',TEAL,d.oilB||7,7.5);
  scat(p,N_WALL,d.dots,'circle',16,TEAL,TEAL,0,8);
  if(d.nagib)scat(p,N_NAG,d.nagib,HEX,[31,27],'#CBBDF0','#4B3BF5',7,9);
  line(p,N_PRESENT,d.black,BLACK,11,10);
}
common(panelA,{fit:fitA,smits:smitsA,coles:colesA,box:boxB,pale:[paleLeadA.concat(paleB)],redPale:redPaleA,red:redA,lightBlue:[blueLightA],
  green:[greenLowA,greenMidA,greenLeadA.concat(greenB),greenHighA],orange:orangeB,blue:[blueLowA.concat(blueB)],oil:oilA,dots:dotsA,nagib:nagibA,black:blackLowA.concat(blackB)});
common(panelB,{fit:fitB,smits:smitsB,coles:colesB,pale:[paleB],red:redB,lightBlue:[],green:[greenB],orange:orangeB,blue:[blueB],oil:oilB,oilSize:24,oilB:7,dots:dotsB,black:blackB});
common(panelC,{fit:unity,smits:smitsC,coles:colesC,box:boxD,pale:[paleLeadC.concat(paleD)],redPale:redPaleC,red:redC,lightBlue:[blueLightC],
  green:[greenLowC,greenMidC,greenLeadC.concat(greenD),greenHighC],orange:orangeD,blue:[blueLowC.concat(blueD)],oil:oilC,dots:dotsC,nagib:nagibC,black:blackLowC.concat(blackD)});
common(panelD,{fit:unity,smits:smitsD,coles:colesD,pale:[paleD],red:redD,lightBlue:[],green:[greenD],orange:orangeD,blue:[blueD],oil:oilD,oilSize:22,oilB:9,dots:dotsD,black:blackD});

// ---------- legends ----------
const legFmt=n=>n==N_FIT?' ':n.replace(/et al\./,'{i|et al.}');
function legend(left,top,w,h,gap,names,pad){
  return {left,top,orient:'vertical',padding:0,itemWidth:w,itemHeight:h,itemGap:gap,selectedMode:false,data:names,formatter:legFmt,
    textStyle:{fontFamily:FONT,fontSize:72.5,color:BLACK,lineHeight:80,padding:[0,0,0,pad],rich:{i:{fontFamily:FONT,fontStyle:'italic',fontSize:72.5,lineHeight:80,color:BLACK}}}};
}
const legends=[
  legend(1025,128,24,24,0,[{name:N_OIL,icon:'rect'}],29),
  legend(1030,242,15,15,0,[{name:N_WALL,icon:'circle'}],33),
  legend(1021,350,32,28,0,[{name:N_NAG,icon:HEX}],25),
  legend(390,1042,186,30,26.2,[{name:N_PRESENT,icon:BAR},{name:N_SMITS,icon:KEY_DASHDOT},{name:N_COLES,icon:KEY_DASH},{name:N_SCH,icon:'circle'},{name:N_PIR,icon:BAR},{name:N_SIL,icon:BAR},{name:N_EIT,icon:BAR}],25),
  legend(1556,1628,178,30,0,[{name:N_FIT,icon:BAR}],5)
];

// ---------- math text ----------
const ctx=document.createElement('canvas').getContext('2d');
function mw(t,s,i){ctx.font=(i?'italic ':'')+s+'px '+FONT;return ctx.measureText(t).width;}
function math(x,y,runs,o){
  o=o||{};let cur=0;const children=[];
  runs.forEach(r=>{
    cur+=r.dx||0;
    children.push({type:'text',x:cur,y:(r.b||0)-0.3375*r.s,silent:true,style:{text:r.t,fontSize:r.s,fontFamily:FONT,fontStyle:r.i?'italic':'normal',fill:o.color||BLACK,align:'left',verticalAlign:'middle'}});
    cur+=mw(r.t,r.s,r.i);
  });
  return {type:'group',x,y,rotation:o.rot||0,scaleX:o.sx||1,scaleY:1,silent:true,children};
}
const T=(t,s,b,i,dx)=>({t,s,b,i,dx});
function subTheta(s){return [T('θ',s*0.74,s*0.2,1,-s*0.02),T('(',s*0.58,s*0.32),T('i',s*0.58,s*0.32,1),T(')',s*0.58,s*0.32)];}
function subF(s,dy){return [T('f',s*0.75,dy,1,s*0.03),T('(',s*0.55,dy+s*0.17,0,s*0.03),T('i',s*0.55,dy+s*0.17,1),T(')',s*0.55,dy+s*0.17)];}
function formula(s,head){return head.concat([T('0.01844',s),T(' · ',s),T('Re',s,0,1)],subTheta(s),[T('−0.2235',s*0.66,-s*0.38,0,-s*0.44),T(' + 0.2979',s),T('/',s,0,1),T('Re',s,0,1)],subTheta(s));}
const label=(x,y,t,c,s)=>math(x,y,[T('(',s),T(t,s,0,1),T(')',s)],{color:c});
const graphicEls=[
  label(92,83,'a',BLACK,96),label(3766,272,'b',BLACK,96),label(150,2332,'c',BLACK,96),label(2023,2319,'d',BLACK,96),
  label(2188,676,'b',GRAY,96),label(755,2976,'d',GRAY,96),
  math(2045,2015,[T('Re',95,0,1)].concat(subTheta(95))),
  math(1048,3801,[T('Re',95,0,1)].concat(subTheta(95))),
  math(3142,1248,[T('Re',81,0,1)].concat(subTheta(81),[T(' × ',85,0,0,6),T('10',81),T('−3',56,-32)])),
  math(2918,3796,[T('Re',94,0,1)].concat(subTheta(94),[T(' × ',100,0,0,8),T('10',94),T('−3',66,-36)])),
  math(1775,1687,formula(69,[T('c',69,0,1)].concat(subF(69,14),[T(' ≈ ',78)]))),
  math(395,2399,formula(73,[T('f',73,0,1),T(' ( ) = ',75)])),
  math(128,1100,[T('c',105,0,1)].concat(subF(105,22),[T(' × ',100,0,0,28),T('10',105),T('3',84,-39)]),{rot:Math.PI/2,sx:0.8}),
  math(2553,740,[T('c',85,0,1)].concat(subF(85,18),[T(' × ',85,0,0,30),T('10',90),T('3',70,-30)]),{rot:Math.PI/2,sx:0.82}),
  math(108,3103,[T('c',102,0,1)].concat(subF(102,22),[T(' / ',115,0,0,6),T('f',105,0,1),T(' ( )',108)]),{rot:Math.PI/2,sx:0.92}),
  math(2083,3107,[T('c',102,0,1)].concat(subF(102,22),[T(' / ',115,0,0,6),T('f',105,0,1),T(' ( )',108)]),{rot:Math.PI/2,sx:0.92})
];

const chart=echarts.init(document.getElementById('c'),null,{renderer:'canvas',width:3994,height:3863});
chart.setOption({backgroundColor:'#fff',animation:false,tooltip:{show:false},grid,xAxis,yAxis,series,legend:legends,graphic:{elements:graphicEls}});
</script></body></html>
